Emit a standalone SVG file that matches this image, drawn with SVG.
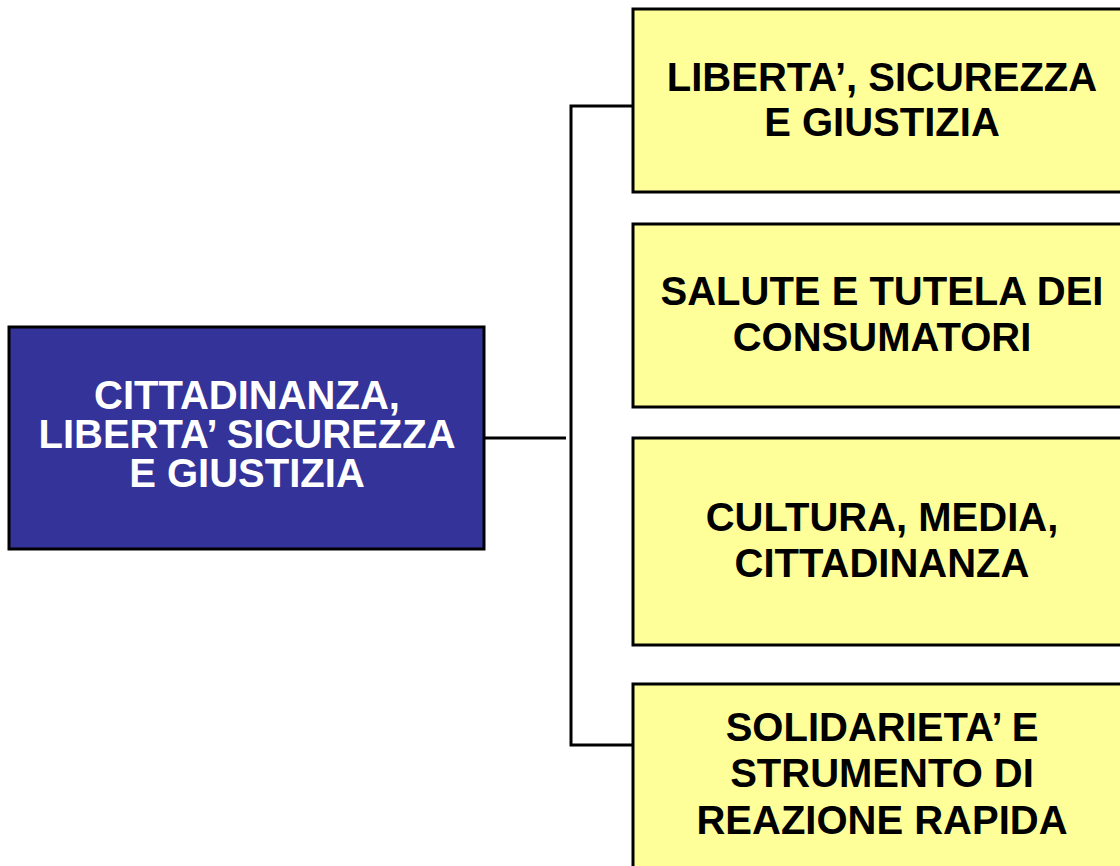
<svg xmlns="http://www.w3.org/2000/svg" width="1120" height="866" viewBox="0 0 1120 866">
<style>
.box{stroke:#000;stroke-width:3}
.main{fill:#333399}
.sub{fill:#FFFF99}
.t{font-family:"Liberation Sans",Arial,sans-serif;font-weight:bold;text-anchor:middle}
.tw{fill:#fff;font-size:40px}
.tb{fill:#000;font-size:40px}
.c{stroke:#000;stroke-width:3;fill:none}
</style>
<rect width="1120" height="866" fill="#fff"/>
<g id="connectors">
<line class="c" x1="484" y1="438" x2="566" y2="438"/>
<polyline class="c" points="633,106 571,106 571,745 633,745"/>
</g>
<g id="root">
<rect class="box main" x="9" y="327" width="475" height="222"/>
<text class="t tw" x="247" y="409">CITTADINANZA,</text>
<text class="t tw" x="247" y="448">LIBERTA’ SICUREZZA</text>
<text class="t tw" x="247" y="487">E GIUSTIZIA</text>
</g>
<g id="n1">
<rect class="box sub" x="633" y="9" width="500" height="183"/>
<text class="t tb" x="882" y="91">LIBERTA’, SICUREZZA</text>
<text class="t tb" x="882" y="136">E GIUSTIZIA</text>
</g>
<g id="n2">
<rect class="box sub" x="633" y="224" width="500" height="183"/>
<text class="t tb" x="882" y="305">SALUTE E TUTELA DEI</text>
<text class="t tb" x="882" y="351">CONSUMATORI</text>
</g>
<g id="n3">
<rect class="box sub" x="633" y="438" width="500" height="207"/>
<text class="t tb" x="882" y="531">CULTURA, MEDIA,</text>
<text class="t tb" x="882" y="577">CITTADINANZA</text>
</g>
<g id="n4">
<rect class="box sub" x="633" y="684" width="500" height="200"/>
<text class="t tb" x="882" y="741">SOLIDARIETA’ E</text>
<text class="t tb" x="882" y="787">STRUMENTO DI</text>
<text class="t tb" x="882" y="834">REAZIONE RAPIDA</text>
</g>
</svg>
